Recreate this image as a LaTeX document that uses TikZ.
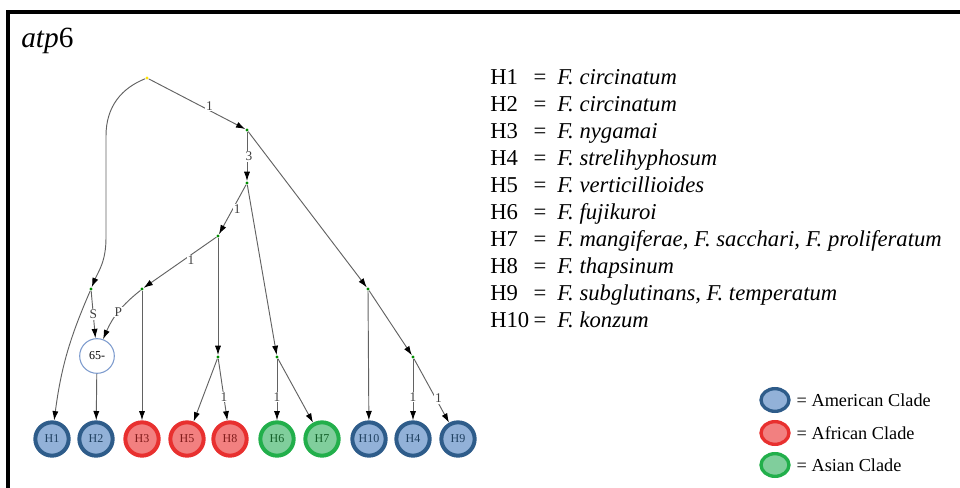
\documentclass[tikz,border=0pt]{standalone}
\usepackage{fontspec}
\setmainfont{Liberation Serif}
\usetikzlibrary{arrows.meta,positioning,shapes.geometric}

\definecolor{amerfill}{HTML}{92B1D8}
\definecolor{amerline}{HTML}{2E5C8A}
\definecolor{afrfill}{HTML}{F28080}
\definecolor{afrline}{HTML}{E8302F}
\definecolor{asiafill}{HTML}{80CE9C}
\definecolor{asialine}{HTML}{22AF4B}
\definecolor{edgegray}{HTML}{626262}
\definecolor{ringblue}{HTML}{7E9CCE}

\tikzset{
  hap/.style={circle, draw, line width=3pt, minimum size=25pt, inner sep=0pt, font=\fontsize{9}{9}\selectfont},
  amer/.style={hap, draw=amerline, fill=amerfill, text=amerline!70!black},
  afr/.style={hap, draw=afrline, fill=afrfill, text=afrline!55!black},
  asia/.style={hap, draw=asialine, fill=asiafill, text=asialine!55!black},
  dot/.style={circle, fill=green!55!black, inner sep=0pt, minimum size=2.5pt},
  lbl/.style={font=\fontsize{10}{10}\selectfont, text=black!75, fill=white, inner sep=0.6pt},
  edge/.style={draw=edgegray, line width=0.7pt, ->},
  keyfont/.style={font=\fontsize{17}{17}\selectfont, inner sep=0pt},
  legmark/.style={ellipse, draw, line width=2.5pt, minimum width=21pt, minimum height=17pt, inner sep=0pt},
  legtext/.style={font=\fontsize{13.7}{13.7}\selectfont},
}

\begin{document}
\begin{tikzpicture}[x=0.75pt, y=-0.75pt, >={Latex[length=7pt,width=4.6pt,color=black]}]
  \useasboundingbox (0,0) rectangle (960,488);

  % frame and title
  \draw[line width=3pt] (7.5,490) -- (7.5,12) -- (962,12);
  \node[anchor=base west, inner sep=0pt, font=\fontsize{22}{22}\selectfont] (title) at (21,48) {\textit{atp}6};

  % median and inner nodes
  \node[dot, fill=yellow!85!orange] (root) at (147,78) {};
  \node[dot] (nA) at (247,130) {};
  \node[dot] (nB) at (247,183) {};
  \node[dot] (nC) at (218,236) {};
  \node[dot] (nD) at (91,289) {};
  \node[dot] (nE) at (142,289) {};
  \node[dot] (nF) at (368,289) {};
  \node[dot] (nG) at (218,357) {};
  \node[dot] (nI) at (277,357) {};
  \node[dot] (nJ) at (413,357) {};
  \node[circle, draw=ringblue, line width=0.8pt, fill=white, minimum size=26pt, inner sep=0pt,
        font=\fontsize{9}{9}\selectfont] (n65) at (97,356) {65-};

  % haplotypes
  \foreach \name/\x/\clade in {H1/52/amer, H2/96/amer, H3/142/afr, H5/187/afr, H8/230/afr,
                               H6/277/asia, H7/322/asia, H10/369/amer, H4/413/amer, H9/458/amer} {
    \node[\clade] (\name) at (\x,439) {\name};
  }

  % connections
  \draw[edge] (root) .. controls (122,88) and (106,106) .. (106,136) -- (106,238)
              .. controls (106,262) and (98,272) .. (nD);
  \draw[edge] (root) -- node[lbl, pos=0.63, above=-1pt] {1} (nA);
  \draw[edge] (nA) -- node[lbl, pos=0.5, xshift=1.5pt] {3} (nB);
  \draw[edge] (nA) -- (nF);
  \draw[edge] (nB) -- node[lbl, pos=0.5, right=0pt] {1} (nC);
  \draw[edge] (nB) -- (nI);
  \draw[edge] (nC) -- node[lbl, pos=0.35, below=0pt] {1} (nE);
  \draw[edge] (nC) -- (nG);
  \draw[edge] (nD) to[bend right=8] (H1);
  \draw[edge] (nD) -- node[lbl, pos=0.5] {S} (n65);
  \draw[edge] (nE) to[bend right=14] node[lbl, pos=0.5] {P} (n65);
  \draw[edge] (nE) -- (H3);
  \draw[edge] (n65) -- (H2);
  \draw[edge] (nG) -- (H5);
  \draw[edge] (nG) -- node[lbl, pos=0.62] {1} (H8);
  \draw[edge] (nI) -- node[lbl, pos=0.62] {1} (H6);
  \draw[edge] (nI) -- (H7);
  \draw[edge] (nF) -- (H10);
  \draw[edge] (nF) -- (nJ);
  \draw[edge] (nJ) -- node[lbl, pos=0.62] {1} (H4);
  \draw[edge] (nJ) -- node[lbl, pos=0.62, xshift=2pt] {1} (H9);

  % haplotype key
  \foreach \i/\sp in {1/F. circinatum, 2/F. circinatum, 3/F. nygamai, 4/F. strelihyphosum,
                      5/F. verticillioides, 6/F. fujikuroi,
                      {7/F. mangiferae, F. sacchari, F. proliferatum}, 8/F. thapsinum,
                      {9/F. subglutinans, F. temperatum}, 10/F. konzum} {
    \node[keyfont, anchor=base west] (hlab\i) at (490,{85+26.9*(\i-1)}) {H\i};
    \node[keyfont, anchor=base] (heq\i) at (540,{85+26.9*(\i-1)}) {=};
    \node[keyfont, anchor=base west] (hsp\i) at (557,{85+26.9*(\i-1)}) {\textit{\sp}};
  }

  % clade legend
  \node[legmark, draw=amerline, fill=amerfill] (legAm) at (775,400) {};
  \node[legmark, draw=afrline, fill=afrfill] (legAf) at (775,433) {};
  \node[legmark, draw=asialine, fill=asiafill] (legAs) at (775,465) {};
  \node[right=1pt of legAm, legtext] (txtAm) {= American Clade};
  \node[right=1pt of legAf, legtext] (txtAf) {= African Clade};
  \node[right=1pt of legAs, legtext] (txtAs) {= Asian Clade};
\end{tikzpicture}
\end{document}
